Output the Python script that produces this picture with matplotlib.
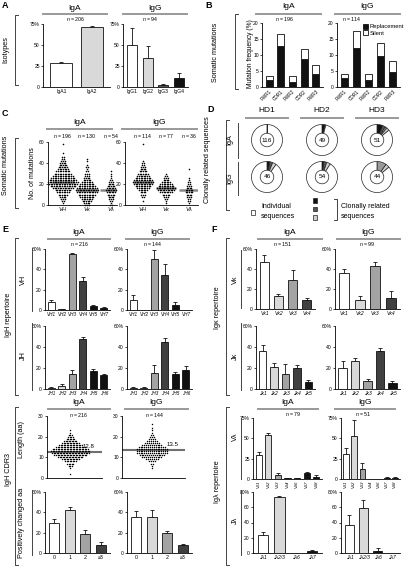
import numpy as np
import matplotlib.pyplot as plt
from matplotlib.patches import Circle, Rectangle

plt.rcParams['font.family'] = ['Liberation Sans', 'DejaVu Sans']
plt.rcParams['mathtext.fontset'] = 'custom'
plt.rcParams['mathtext.it'] = 'Liberation Sans:italic'
plt.rcParams['mathtext.rm'] = 'Liberation Sans'

# ---------------- data ----------------
# A: isotypes (%)
isoA_labels = ['IgA1', 'IgA2']
isoA_vals = [28.5, 71.5]
isoA_err = [1, 1]
isoG_labels = ['IgG1', 'IgG2', 'IgG3', 'IgG4']
isoG_vals = [50, 35, 2.5, 11]
isoG_err = [20, 14, 1, 6]

# B: mutation frequency (%)
regions = ['FWR1', 'CDR1', 'FWR2', 'CDR2', 'FWR3']
mutA_repl = [2.2, 12.7, 1.6, 8.7, 4.0]
mutA_total = [3.5, 16.7, 3.5, 12.0, 7.0]
mutG_repl = [2.7, 12.2, 2.1, 9.7, 4.6]
mutG_total = [4.0, 17.5, 4.0, 13.7, 8.2]

# C: number of mutations, counts per value (0, 2, 4, ...)
genes_C = ['VH', 'Vκ', 'Vλ']
nA_C = [196, 130, 54]
nG_C = [114, 77, 36]
cA_VH = [0, 1, 2, 3, 4, 6, 8, 10, 13, 16, 18, 19, 17, 15, 13, 11, 9, 7, 6, 5, 4, 3, 2, 2, 0, 1, 0, 0, 0, 1]
cA_VK = [3, 4, 6, 7, 9, 11, 13, 14, 13, 11, 9, 7, 5, 4, 3, 3, 2, 1, 2, 1, 0, 1, 1]
cA_VL = [2, 1, 2, 3, 4, 5, 6, 7, 6, 5, 4, 3, 2, 1, 1, 1, 1]
cG_VH = [0, 0, 1, 0, 2, 3, 4, 6, 8, 10, 12, 13, 12, 10, 8, 7, 5, 4, 3, 2, 2, 1, 0, 0, 0, 0, 0, 0, 0, 1]
cG_VK = [0, 1, 1, 2, 3, 5, 8, 11, 12, 10, 8, 6, 4, 3, 2, 1]
cG_VL = [0, 1, 2, 2, 3, 4, 5, 5, 4, 3, 2, 2, 1, 1, 0, 0, 0, 1]

# D: clonally related sequences (% of pie), shades black, dark, mid, light
donors = ['HD1', 'HD2', 'HD3']
pieA_n = [116, 49, 51]
pieG_n = [46, 54, 44]
pieA_clon = [[0, 0, 0, 0.6], [3, 1, 0, 0], [6, 3, 2, 3]]
pieG_clon = [[3, 3, 0, 4], [2, 3, 0, 4], [0, 0, 10, 4]]

# E: IgH repertoire (%)
vh_labels = ['VH1', 'VH2', 'VH3', 'VH4', 'VH5', 'VH7']
vhA_vals = [8, 0.5, 55, 29, 4, 2]
vhA_err = [2, 0.3, 1, 3, 1, 1]
vhG_vals = [10, 0, 50, 34, 5, 0]
vhG_err = [5, 0, 9, 11, 3, 0]
jh_labels = ['JH1', 'JH2', 'JH3', 'JH4', 'JH5', 'JH6']
jhA_vals = [1, 3, 14, 48, 17, 13]
jhA_err = [0.5, 1.5, 4, 2, 2.5, 1.5]
jhG_vals = [1, 1, 15, 45, 14, 18]
jhG_err = [1, 1, 8, 4, 2, 4]

# E: CDR3 length counts per value (0, 1, 2, ...)
cdr3A_counts = [0, 0, 1, 0, 0, 1, 3, 5, 8, 12, 17, 22, 25, 26, 24, 20, 16, 12, 9, 6, 4, 3, 1, 1]
cdr3G_counts = [0, 0, 0, 0, 0, 1, 1, 2, 4, 7, 11, 14, 17, 17, 17, 15, 11, 8, 6, 4, 3, 2, 1, 1, 1, 0, 1]
cdr3_mean = [12.8, 13.5]
cdr3_n = [216, 144]
charge_labels = ['0', '1', '2', '≥3']
chargeA_vals = [30, 42, 19, 8]
chargeA_err = [3, 3, 4, 3]
chargeG_vals = [35, 35, 20, 8]
chargeG_err = [6, 7, 2, 1]

# F: Igκ repertoire (%)
vk_labels = ['Vκ1', 'Vκ2', 'Vκ3', 'Vκ4']
vkA_vals = [47, 13, 29, 9]
vkA_err = [7, 2, 10, 2]
vkG_vals = [36, 9, 43, 11]
vkG_err = [4, 4, 4, 7]
jk_labels = ['Jκ1', 'Jκ2', 'Jκ3', 'Jκ4', 'Jκ5']
jkA_vals = [36, 21, 14, 20, 7]
jkA_err = [6, 4, 10, 3, 2]
jkG_vals = [20, 27, 8, 36, 6]
jkG_err = [7, 3, 2, 3, 2]

# F: Igλ repertoire (%)
vl_labels = ['Vλ1', 'Vλ2', 'Vλ3', 'Vλ4', 'Vλ6', 'Vλ7', 'Vλ8']
vlA_vals = [29, 54, 5, 1, 1, 7, 3]
vlA_err = [4, 2, 2, 0.5, 0.5, 2, 1.5]
vlG_vals = [31, 53, 12, 0, 0, 1, 1]
vlG_err = [7, 20, 8, 0, 0, 1, 1]
jl_labels = ['Jλ1', 'Jλ2/3', 'Jλ6', 'Jλ7']
jlA_vals = [24, 73, 0, 2]
jlA_err = [4, 2, 0, 1.5]
jlG_vals = [37, 59, 3, 0]
jlG_err = [13, 11, 3, 0]

# ---------------- style ----------------
WHITE, LIGHT, MID, DARK, BLACK = '#ffffff', '#d9d9d9', '#a3a3a3', '#404040', '#111111'
EDGE = '#111111'

W, H = 406, 570
fig = plt.figure(figsize=(W / 100, H / 100), dpi=100)

ov = fig.add_axes([0, 0, 1, 1])
ov.set_zorder(10)
ov.axis('off')


def px_ax(x0, y0, x1, y1):
    return fig.add_axes([x0 / W, 1 - y1 / H, (x1 - x0) / W, (y1 - y0) / H])


def yaxis_style(ax, ymax, step, pct=True):
    ax.set_ylim(0, ymax)
    ticks = np.arange(0, ymax + 0.01, step)
    ax.set_yticks(ticks)
    lab = ['%g' % t for t in ticks]
    if pct:
        lab[-1] += '%'
    ax.set_yticklabels(lab)
    for s in ['top', 'right']:
        ax.spines[s].set_visible(False)
    for s in ['left', 'bottom']:
        ax.spines[s].set_linewidth(0.6)
    ax.tick_params(axis='y', length=1.5, width=0.5, pad=0.8, labelsize=3.6)
    ax.tick_params(axis='x', length=0, pad=1.3)


def bar_ax(box, labels, vals, errs, colors, ymax, step, italic=True, rot=0, pct=True, fs=3.3, width=0.65):
    ax = px_ax(*box)
    x = np.arange(len(vals))
    for xi, v, e in zip(x, vals, errs):
        if v > 0 and e > 0:
            ax.errorbar(xi, v, yerr=[[0], [e]], fmt='none', ecolor=EDGE, elinewidth=0.6,
                        capsize=1.3, capthick=0.6, zorder=1)
    ax.bar(x, vals, width=width, color=colors, edgecolor=EDGE, linewidth=0.6, zorder=2)
    ax.set_xlim(-0.6, len(vals) - 0.4)
    yaxis_style(ax, ymax, step, pct)
    ax.set_xticks(x)
    ax.set_xticklabels(labels, fontsize=fs, style='italic' if italic else 'normal', rotation=rot)
    return ax


def swarm(ax, pos, counts, step, dx, s=0.9):
    xs, ys = [], []
    for i, c in enumerate(counts):
        if c == 0:
            continue
        off = (np.arange(c) - (c - 1) / 2) * dx
        xs.extend(pos + off)
        ys.extend([i * step] * c)
    ax.scatter(xs, ys, s=s, c='k', linewidths=0, zorder=3, clip_on=False)
    return np.repeat(np.arange(len(counts)) * step, counts)


def header(text, x0, x1, ytext, yline):
    ov.text((x0 + x1) / 2, ytext, text, ha='center', va='center', fontsize=6)
    ov.plot([x0, x1], [yline, yline], color='#999999', lw=1.4)


def bracket(x, y0, y1, side=1, tick=3):
    ov.plot([x + side * tick, x, x, x + side * tick], [y0, y0, y1, y1], color='#444444', lw=0.7)


def vline(x, y0, y1):
    ov.plot([x, x], [y0, y1], color='#444444', lw=0.7)


def rlabel(x, y, text, fs=5.2):
    ov.text(x, y, text, rotation=90, ha='center', va='center', fontsize=fs)


def nlabel(x, y, n):
    ov.text(x, y, r'$n$ = %d' % n, ha='center', va='center', fontsize=3.8)


def letter(x, y, s):
    ov.text(x, y, s, ha='left', va='center', fontsize=6.5, fontweight='bold')


# ---------------- A ----------------
letter(2, 5, 'A')
header('IgA', 43, 107, 8, 14)
header('IgG', 123, 187, 8, 14)
nlabel(76, 19, 206)
nlabel(150, 19, 94)
rlabel(6, 50, 'Isotypes')
bracket(15, 15, 85)
bar_ax((43, 24, 110, 87), isoA_labels, isoA_vals, isoA_err, [WHITE, LIGHT], 75, 25, italic=False, fs=3.6,
       width=0.72)
bar_ax((123, 24, 188, 87), isoG_labels, isoG_vals, isoG_err, [WHITE, LIGHT, '#555555', BLACK], 75, 25,
       italic=False, fs=3.6)

# ---------------- B ----------------
letter(205, 5, 'B')
header('IgA', 256, 321, 7, 14)
header('IgG', 335, 400, 7, 14)
nlabel(285, 19, 196)
nlabel(352, 19, 114)
rlabel(216, 52, 'Somatic mutations')
bracket(235, 14, 89)
rlabel(251, 54, 'Mutation frequency (%)', fs=4.8)
for box, repl, total, leg in [((262, 23, 323, 87), mutA_repl, mutA_total, False),
                              ((337, 23, 400, 87), mutG_repl, mutG_total, True)]:
    ax = px_ax(*box)
    x = np.arange(len(regions))
    repl = np.array(repl)
    silent = np.array(total) - repl
    ax.bar(x, repl, width=0.6, color=BLACK, edgecolor=EDGE, linewidth=0.6, label='Replacement')
    ax.bar(x, silent, bottom=repl, width=0.6, color=WHITE, edgecolor=EDGE, linewidth=0.6, label='Silent')
    ax.set_xlim(-0.6, len(regions) - 0.4)
    yaxis_style(ax, 20, 5, pct=False)
    ax.set_xticks(x)
    ax.set_xticklabels(regions, fontsize=3.3, rotation=45, ha='right', rotation_mode='anchor')
    if leg:
        ax.legend(loc='upper right', bbox_to_anchor=(1.1, 1.02), frameon=False, fontsize=4.2,
                  handlelength=0.9, handleheight=0.9, handletextpad=0.2, labelspacing=0.1,
                  borderaxespad=0)

# ---------------- C ----------------
letter(2, 113, 'C')
header('IgA', 47, 112, 123, 129)
header('IgG', 122, 197, 123, 129)
rlabel(6, 165, 'Somatic mutations')
bracket(15, 138, 208)
rlabel(33, 173, 'No. of mutations', fs=5)
for box, xl, groups, ns, dx in [((48, 142, 117, 205), (-0.62, 2.25), [cA_VH, cA_VK, cA_VL], nA_C, 0.068),
                                ((125, 142, 198, 205), (-0.78, 2.39), [cG_VH, cG_VK, cG_VL], nG_C, 0.07)]:
    ax = px_ax(*box)
    for pos, counts in enumerate(groups):
        vals = swarm(ax, pos, counts, 2, dx, s=1.3)
        med = np.median(vals)
        ax.hlines(med, pos - 0.45, pos + 0.45, color='#888888', lw=1.8, zorder=2)
        ax.text(pos, 1.1, r'$n$ = %d' % ns[pos], transform=ax.get_xaxis_transform(),
                ha='center', va='center', fontsize=3.8)
    ax.set_xlim(*xl)
    yaxis_style(ax, 60, 20, pct=False)
    ax.set_xticks(range(3))
    ax.set_xticklabels(genes_C, fontsize=4.2, style='italic')

# ---------------- D ----------------
letter(207, 110, 'D')
pie_cols = [BLACK, '#555555', '#9a9a9a', '#d0d0d0']
pie_x = [267, 322, 377]
for i, d in enumerate(donors):
    header(d, pie_x[i] - 21, pie_x[i] + 21, 110, 118)
rlabel(208, 160, 'Clonally related sequences', fs=5.2)
bracket(226, 120, 210)
rlabel(230, 140, 'IgA', fs=5.2)
rlabel(230, 178, 'IgG', fs=5.2)
vline(238, 123, 158)
vline(238, 162, 195)


def pie(cx, cy, shades, n):
    ax = px_ax(cx - 17, cy - 17, cx + 17, cy + 17)
    vals = list(shades) + [100 - sum(shades)]
    cols = pie_cols + [WHITE]
    keep = [(v, c) for v, c in zip(vals, cols) if v > 0]
    ax.pie([v for v, c in keep], colors=[c for v, c in keep], startangle=90, counterclock=False,
           radius=15.5 / 17, wedgeprops=dict(edgecolor='#222222', linewidth=0.5))
    ax.add_patch(Circle((0, 0), 0.4, facecolor=WHITE, edgecolor='#222222', lw=0.5, zorder=5))
    ax.text(0, 0, str(n), ha='center', va='center', fontsize=4.6, zorder=6)
    ax.set_xlim(-1, 1)
    ax.set_ylim(-1, 1)
    ax.set_aspect('equal')
    ax.axis('off')


for i in range(3):
    pie(pie_x[i], 140, pieA_clon[i], pieA_n[i])
    pie(pie_x[i], 177, pieG_clon[i], pieG_n[i])

ov.add_patch(Rectangle((251, 210), 4.5, 4.5, facecolor=WHITE, edgecolor='#222222', lw=0.5))
ov.text(261, 206, 'Individual', fontsize=5, va='center', ha='left')
ov.text(261, 216, 'sequences', fontsize=5, va='center', ha='left')
for j, c in enumerate([BLACK, '#555555', '#d0d0d0']):
    ov.add_patch(Rectangle((313, 198 + j * 8.5), 4.5, 4.5, facecolor=c, edgecolor='#222222', lw=0.5))
bracket(337, 199, 220, side=-1, tick=2.5)
ov.text(341, 206, 'Clonally related', fontsize=5, va='center', ha='left')
ov.text(341, 216, 'sequences', fontsize=5, va='center', ha='left')

# ---------------- E ----------------
letter(2, 229, 'E')
header('IgA', 48, 110, 232, 239)
header('IgG', 126, 189, 232, 239)
nlabel(80, 244, 216)
nlabel(153, 244, 144)
rlabel(9, 315, 'IgH repertoire')
bracket(15, 238, 395)
rlabel(23, 280, 'VH')
vline(32, 248, 311)
rlabel(23, 356, 'JH')
vline(32, 323, 390)
vh_cols = [WHITE, LIGHT, MID, DARK, BLACK, BLACK]
bar_ax((45, 249, 110, 310), vh_labels, vhA_vals, vhA_err, vh_cols, 60, 20)
bar_ax((127, 249, 192, 310), vh_labels, vhG_vals, vhG_err, vh_cols, 60, 20)
bar_ax((45, 326, 110, 389), jh_labels, jhA_vals, jhA_err, vh_cols, 60, 20)
bar_ax((127, 326, 192, 389), jh_labels, jhG_vals, jhG_err, vh_cols, 60, 20)

# CDR3
header('IgA', 48, 110, 402, 409)
header('IgG', 125, 188, 402, 409)
nlabel(79, 415, cdr3_n[0])
nlabel(155, 415, cdr3_n[1])
rlabel(9, 470, 'IgH CDR3')
bracket(15, 407, 565)
rlabel(22, 440, 'Length (aa)')
rlabel(22, 523, 'Positively changed aa')
vline(32, 490, 555)
for box, xl, counts, mean, dx, tx in [((47, 416, 102, 478), (-0.85, 1.15), cdr3A_counts, cdr3_mean[0], 0.055, 0.75),
                                      ((122, 416, 185, 478), (-0.95, 1.05), cdr3G_counts, cdr3_mean[1], 0.06, 0.8)]:
    ax = px_ax(*box)
    swarm(ax, 0, counts, 1, dx, s=1.1)
    ax.axhline(mean, color='#707070', lw=1.5, zorder=2)
    ax.text(tx, mean + 2.5, '%.1f' % mean, transform=ax.get_yaxis_transform(),
            ha='center', va='center', fontsize=4.4)
    ax.set_xlim(*xl)
    yaxis_style(ax, 30, 10, pct=False)
    ax.set_xticks([])
ch_cols = [WHITE, LIGHT, MID, DARK]
bar_ax((45, 492, 110, 553), charge_labels, chargeA_vals, chargeA_err, ch_cols, 60, 20, italic=False, fs=3.8)
bar_ax((127, 492, 192, 553), charge_labels, chargeG_vals, chargeG_err, ch_cols, 60, 20, italic=False, fs=3.8)

# ---------------- F ----------------
letter(211, 229, 'F')
header('IgA', 258, 322, 232, 239)
header('IgG', 337, 400, 232, 239)
nlabel(283, 244, 151)
nlabel(367, 244, 99)
rlabel(218, 308, 'Igκ repertoire')
bracket(226, 238, 395)
rlabel(235, 280, 'Vκ')
vline(241, 250, 308)
rlabel(235, 356, 'Jκ')
vline(241, 323, 390)
bar_ax((256, 249, 315, 309), vk_labels, vkA_vals, vkA_err, [WHITE, LIGHT, MID, DARK], 60, 20, fs=3.6)
bar_ax((335, 249, 400, 309), vk_labels, vkG_vals, vkG_err, [WHITE, LIGHT, MID, DARK], 60, 20, fs=3.6)
jk_cols = [WHITE, LIGHT, MID, DARK, BLACK]
bar_ax((256, 326, 315, 389), jk_labels, jkA_vals, jkA_err, jk_cols, 60, 20, fs=3.6)
bar_ax((335, 326, 400, 389), jk_labels, jkG_vals, jkG_err, jk_cols, 60, 20, fs=3.6)

header('IgA', 258, 318, 402, 409)
header('IgG', 335, 395, 402, 409)
nlabel(293, 414, 79)
nlabel(363, 414, 51)
rlabel(218, 482, 'Igλ repertoire')
bracket(226, 407, 565)
rlabel(235, 437, 'Vλ')
vline(241, 418, 479)
rlabel(235, 520, 'Jλ')
vline(241, 490, 555)
vl_cols = [WHITE, LIGHT, MID, DARK, DARK, BLACK, BLACK]
bar_ax((253, 418, 322, 479), vl_labels, vlA_vals, vlA_err, vl_cols, 75, 25, rot=90, fs=3.2)
bar_ax((341, 418, 400, 479), vl_labels, vlG_vals, vlG_err, vl_cols, 75, 25, rot=90, fs=3.2)
jl_cols = [WHITE, LIGHT, BLACK, BLACK]
bar_ax((253, 492, 322, 553), jl_labels, jlA_vals, jlA_err, jl_cols, 80, 20, fs=3.6)
bar_ax((341, 492, 400, 553), jl_labels, jlG_vals, jlG_err, jl_cols, 80, 20, fs=3.6)

ov.set_xlim(0, W)
ov.set_ylim(H, 0)

fig.savefig('out.png', dpi=100)
